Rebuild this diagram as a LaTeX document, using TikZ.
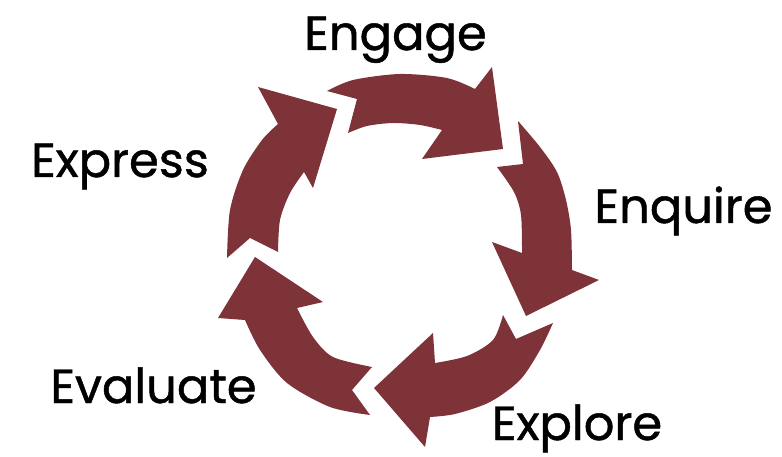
\documentclass[tikz,border=0pt]{standalone}
\usepackage{fontspec}
\setmainfont{Poppins}[UprightFeatures={FakeBold=1}]
\definecolor{arrowred}{RGB}{126,51,57}
\begin{document}
\begin{tikzpicture}[x=1pt,y=-1pt,
  cyclearrow/.style={fill=arrowred},
  lbl/.style={font=\fontsize{48}{48}\selectfont, anchor=base, inner sep=0pt, text=black}]
\useasboundingbox (0,0) rectangle (782,457);
% Engage arrow (top)
\fill[cyclearrow] plot[smooth] coordinates {(327,91) (353,80) (400,74) (447,78) (475,89)}
  -- (492,67) -- (503,149) -- (422,159) -- (442,130)
  -- plot[smooth] coordinates {(442,130) (420,125) (393,123) (367,126) (348,133)}
  -- (357,99) -- cycle;
% Enquire arrow (right)
\fill[cyclearrow] plot[smooth] coordinates {(518,121) (540,147) (557,172) (566,200) (571,230) (572,270)}
  -- (599,280) -- (526,316) -- (492,242) -- (522,253)
  -- plot[smooth] coordinates {(522,253) (521,215) (514,192) (497,167)}
  -- (523,164) -- cycle;
% Explore arrow (bottom right)
\fill[cyclearrow] plot[smooth] coordinates {(553,323) (540,350) (520,380) (490,402) (455,414) (430,417)}
  -- (425,447) -- (374,388) -- (433,333) -- (435,363)
  -- plot[smooth] coordinates {(435,363) (467,356) (493,340) (503,315)}
  -- (516,339) -- cycle;
% Evaluate arrow (bottom left)
\fill[cyclearrow] plot[smooth] coordinates {(370,415) (330,407) (287,383) (260,350) (245,320)}
  -- (218,318) -- (255,257) -- (323,302) -- (297,308)
  -- plot[smooth] coordinates {(297,308) (313,337) (333,357) (372,367)}
  -- (352,390) -- cycle;
% Express arrow (left)
\fill[cyclearrow] plot[smooth] coordinates {(227,258) (230,210) (243,170) (262,140) (278,124)}
  -- (258,87) -- (337,109) -- (313,188) -- (304,172)
  -- plot[smooth] coordinates {(304,172) (290,193) (280,220) (278,252)}
  -- (250,238) -- cycle;
% labels
\node[lbl] (engage) at (395.5,50) {Engage};
\node[lbl] (enquire) at (683.5,223) {Enquire};
\node[lbl] (explore) at (577,440) {Explore};
\node[lbl] (evaluate) at (153.5,403) {Evaluate};
\node[lbl] (express) at (120,177) {Express};
\end{tikzpicture}
\end{document}
